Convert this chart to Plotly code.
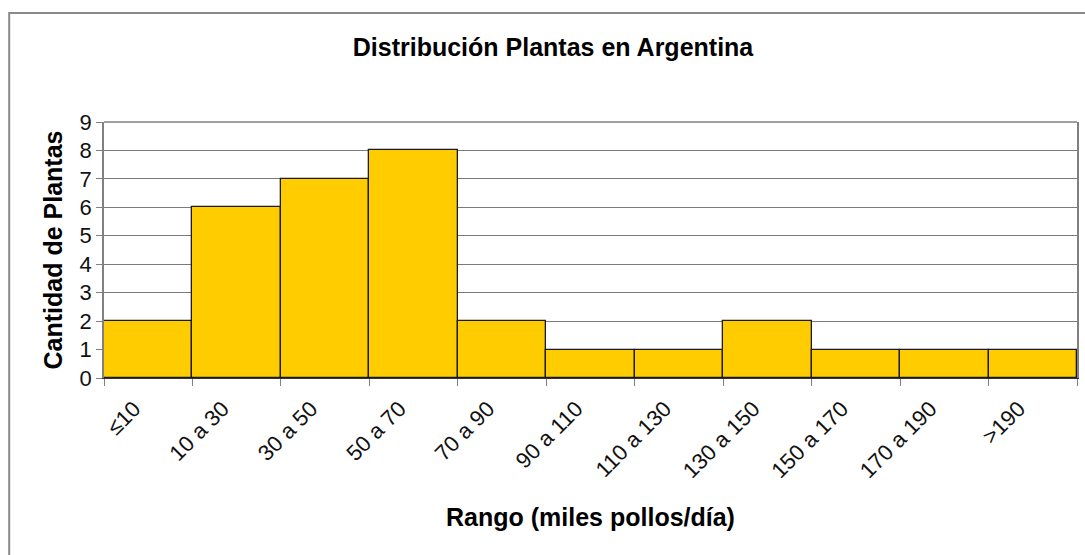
import plotly.graph_objects as go

# Plant counts per capacity range (thousand chickens per day)
rangos = ["≤10", "10 a 30", "30 a 50", "50 a 70", "70 a 90", "90 a 110",
          "110 a 130", "130 a 150", "150 a 170", "170 a 190", ">190"]
cantidad = [2, 6, 7, 8, 2, 1, 1, 2, 1, 1, 1]

W, H = 1085, 555
L, R, T, B = 104, 1079, 122, 378  # plot area in pixels

fig = go.Figure(go.Bar(
    x=rangos, y=cantidad,
    marker=dict(color="#FFCC00", line=dict(color="#1a1a1a", width=1.3)),
))

font_family = "Liberation Sans, Arial, sans-serif"

def px_x(px):
    return (px - L) / (R - L)

def px_y(py):
    return (B - py) / (B - T)

fig.update_layout(
    width=W, height=H,
    margin=dict(l=L, r=W - R, t=T, b=H - B),
    paper_bgcolor="white", plot_bgcolor="white",
    bargap=0,
    showlegend=False,
    font=dict(family=font_family, color="black"),
    title=dict(text="<b>Distribución Plantas en Argentina</b>",
               x=553 / W, xref="container", xanchor="center",
               y=1 - 47 / H, yref="container", yanchor="middle",
               font=dict(size=25, family=font_family)),
    xaxis=dict(
        type="category", tickangle=-45, tickson="boundaries",
        ticks="outside", ticklen=7, tickcolor="#808080", tickwidth=1,
        ticklabelstandoff=8, ticklabelshift=-14,
        showline=True, linecolor="#333333", linewidth=1.3,
        tickfont=dict(size=22, family=font_family, color="#111"),
        title=dict(text="<b>Rango (miles pollos/día)</b>", standoff=26,
                   font=dict(size=25, family=font_family)),
        showgrid=False,
    ),
    yaxis=dict(
        range=[0, 9], dtick=1, tick0=0,
        ticks="outside", ticklen=6, tickcolor="#808080",
        showline=True, linecolor="#808080", linewidth=1.5, mirror=True,
        showgrid=True, gridcolor="#7a7a7a", gridwidth=1.2,
        tickfont=dict(size=22, family=font_family, color="#111"),
        title=dict(text="<b>Cantidad de Plantas</b>", standoff=10,
                   font=dict(size=25, family=font_family)),
        zeroline=False,
    ),
    shapes=[
        # outer chart frame
        dict(type="rect", xref="paper", yref="paper",
             x0=px_x(9), x1=px_x(1110), y0=px_y(580), y1=px_y(13),
             line=dict(color="#8a8a8a", width=2), layer="below"),
        # top border of plot area
        dict(type="line", xref="paper", yref="paper",
             x0=0, x1=1, y0=1, y1=1,
             line=dict(color="#808080", width=1.5)),
    ],
)

fig.write_html("out.html")
